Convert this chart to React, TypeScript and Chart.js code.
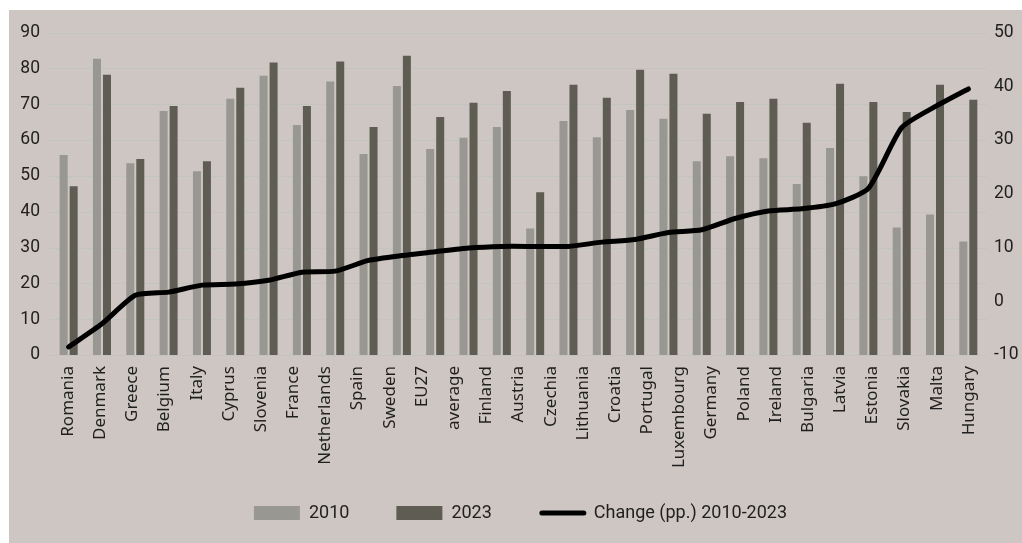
import React, { useEffect, useRef } from "react";
import { Chart, registerables } from "chart.js";

Chart.register(...registerables);

const categories = [
  "Romania", "Denmark", "Greece", "Belgium", "Italy", "Cyprus", "Slovenia",
  "France", "Netherlands", "Spain", "Sweden", "EU27 average", "Finland",
  "Austria", "Czechia", "Lithuania", "Croatia", "Portugal", "Luxembourg",
  "Germany", "Poland", "Ireland", "Bulgaria", "Latvia", "Estonia", "Slovakia",
  "Malta", "Hungary",
];

// axis tick labels as printed under the chart ("EU27 average" is wrapped in two lines)
const tickLabels = [
  "Romania", "Denmark", "Greece", "Belgium", "Italy", "Cyprus", "Slovenia",
  "France", "Netherlands", "Spain", "Sweden", "EU27", "average", "Finland",
  "Austria", "Czechia", "Lithuania", "Croatia", "Portugal", "Luxembourg",
  "Germany", "Poland", "Ireland", "Bulgaria", "Latvia", "Estonia", "Slovakia",
  "Malta", "Hungary",
];

const values2010 = [
  55.8, 82.7, 53.5, 68.1, 51.3, 71.5, 77.9, 64.2, 76.3, 56.1, 75.1, 57.5, 60.6,
  63.6, 35.3, 65.3, 60.8, 68.4, 65.9, 54.1, 55.5, 54.9, 47.7, 57.8, 49.9, 35.6,
  39.2, 31.7,
];

const values2023 = [
  47.1, 78.2, 54.7, 69.5, 54.1, 74.6, 81.6, 69.5, 81.9, 63.6, 83.5, 66.4, 70.4,
  73.7, 45.4, 75.4, 71.8, 79.6, 78.5, 67.3, 70.6, 71.5, 64.8, 75.7, 70.6, 67.8,
  75.4, 71.2,
];

const changePP = [
  -8.5, -4.2, 1.1, 1.7, 3.0, 3.2, 3.9, 5.4, 5.6, 7.6, 8.5, 9.2, 9.9, 10.2, 10.2,
  10.2, 11.0, 11.5, 12.8, 13.3, 15.4, 16.8, 17.2, 18.1, 21.0, 32.3, 36.2, 39.5,
];

const seriesNames = ["2010", "2023", "Change (pp.) 2010-2023"];
const leftAxis = { min: 0, max: 90, step: 10 };
const rightAxis = { min: -10, max: 50, step: 10 };

const TEXT = "#1f1f1f";
const GRID = "#c3c3c0";

const gridPlugin = {
  id: "extendedGrid",
  beforeDatasetsDraw(chart: any) {
    const { ctx, chartArea } = chart;
    const y = chart.scales.y;
    ctx.save();
    ctx.strokeStyle = GRID;
    ctx.lineWidth = 1;
    y.ticks.forEach((_t: any, i: number) => {
      const py = Math.round(y.getPixelForTick(i)) + 0.5;
      ctx.beginPath();
      ctx.moveTo(chartArea.left - 5, py);
      ctx.lineTo(chartArea.right + 2, py);
      ctx.stroke();
    });
    ctx.restore();
  },
};

const legendLinePlugin = {
  id: "legendLine",
  afterDraw(chart: any) {
    const legend = chart.legend;
    if (!legend || !legend.legendHitBoxes) return;
    const items = legend.legendItems || [];
    const idx = items.findIndex((it: any) => it.datasetIndex === 2);
    if (idx < 0) return;
    const hb = legend.legendHitBoxes[idx];
    const bw = legend.options.labels.boxWidth;
    const { ctx } = chart;
    const cy = hb.top + hb.height / 2;
    ctx.save();
    ctx.strokeStyle = "#000";
    ctx.lineWidth = 5;
    ctx.lineCap = "round";
    ctx.beginPath();
    ctx.moveTo(hb.left + 3, cy);
    ctx.lineTo(hb.left + bw - 1, cy);
    ctx.stroke();
    ctx.restore();
  },
};

export default function App() {
  const canvasRef = useRef<HTMLCanvasElement | null>(null);

  useEffect(() => {
    if (!canvasRef.current) return;
    const chart = new Chart(canvasRef.current, {
      type: "bar",
      data: {
        labels: categories,
        datasets: [
          {
            type: "bar",
            label: seriesNames[0],
            data: values2010,
            backgroundColor: "#989792",
            xAxisID: "x",
            yAxisID: "y",
            categoryPercentage: 0.6,
            barPercentage: 0.8,
            order: 1,
          },
          {
            type: "bar",
            label: seriesNames[1],
            data: values2023,
            backgroundColor: "#5f5c54",
            xAxisID: "x",
            yAxisID: "y",
            categoryPercentage: 0.6,
            barPercentage: 0.8,
            order: 1,
          },
          {
            type: "line",
            label: seriesNames[2],
            data: changePP,
            borderColor: "#000000",
            backgroundColor: "#000000",
            borderWidth: 5,
            pointRadius: 0,
            tension: 0.2,
            borderCapStyle: "round",
            borderJoinStyle: "round",
            xAxisID: "x",
            yAxisID: "y1",
            order: 0,
          } as any,
        ],
      },
      options: {
        animation: false,
        responsive: true,
        maintainAspectRatio: false,
        layout: { padding: { left: 12, right: 2, top: 15, bottom: 11 } },
        plugins: {
          tooltip: { enabled: false },
          legend: {
            position: "bottom",
            labels: {
              boxWidth: 46,
              boxHeight: 14,
              padding: 47,
              color: TEXT,
              font: { family: "Roboto", size: 18 },
              generateLabels: (c: any) => {
                const items = Chart.defaults.plugins.legend.labels.generateLabels(c);
                items.forEach((it: any) => {
                  it.lineWidth = 0;
                  if (it.datasetIndex === 2) {
                    it.fillStyle = "rgba(0,0,0,0)";
                    it.strokeStyle = "rgba(0,0,0,0)";
                  }
                });
                return items.sort((a: any, b: any) => a.datasetIndex - b.datasetIndex);
              },
            },
          },
        },
        scales: {
          x: {
            type: "category",
            display: false,
            offset: true,
            grid: { display: false, drawTicks: false },
          },
          x2: {
            type: "category",
            labels: tickLabels,
            position: "bottom",
            offset: true,
            grid: { display: false, drawTicks: false },
            border: { display: false },
            afterFit: (scale: any) => {
              scale.paddingLeft = 0;
              scale.paddingRight = 0;
              scale.height = 102;
              scale._computeLabelArea = () => undefined;
            },
            ticks: {
              autoSkip: false,
              maxRotation: 90,
              minRotation: 90,
              padding: 11,
              color: TEXT,
              font: { family: "Noto Sans", size: 17 },
            },
          } as any,
          y: {
            position: "left",
            min: leftAxis.min,
            max: leftAxis.max,
            grid: { display: false, drawTicks: false },
            border: { display: false },
            afterFit: (scale: any) => {
              scale.width = 31;
            },
            ticks: {
              stepSize: leftAxis.step,
              padding: 12,
              color: TEXT,
              font: { family: "Roboto", size: 17.5 },
            },
          },
          y1: {
            position: "right",
            min: rightAxis.min,
            max: rightAxis.max,
            grid: { display: false, drawTicks: false },
            border: { display: false },
            afterFit: (scale: any) => {
              scale.width = 35;
            },
            ticks: {
              stepSize: rightAxis.step,
              padding: 9,
              color: TEXT,
              font: { family: "Roboto", size: 17.5 },
            },
          },
        },
      },
      plugins: [gridPlugin, legendLinePlugin],
    });
    return () => chart.destroy();
  }, []);

  return (
    <div
      style={{
        position: "fixed",
        left: 9,
        top: 10,
        width: 1013,
        height: 533,
        background: "#cdc6c2",
      }}
    >
      <canvas ref={canvasRef} />
    </div>
  );
}
